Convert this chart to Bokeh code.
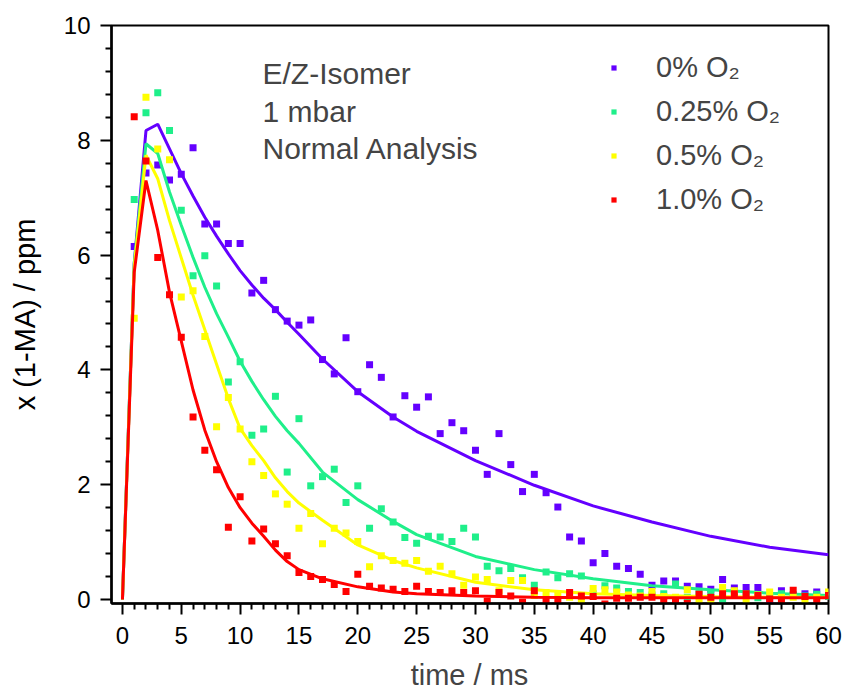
from bokeh.plotting import figure
from bokeh.models import Range1d, FixedTicker, Legend, LegendItem, Label
from bokeh.embed import file_html
from bokeh.resources import INLINE

# ---------------- data ----------------
time_ms = list(range(1, 61))

o2_0 = [6.15, 7.43, 7.57, 7.31, 7.41, 7.87, 6.54, 6.54, 6.20, 6.20,
        5.34, 5.56, 5.05, 4.85, 4.78, 4.87, 4.18, 3.93, 4.56, 3.62,
        4.09, 3.87, 3.18, 3.55, 3.35, 3.53, 2.89, 3.08, 2.94, 2.60,
        2.18, 2.89, 2.35, 1.88, 2.18, 1.86, 1.61, 1.09, 1.02, 0.64,
        0.80, 0.58, 0.54, 0.44, 0.25, 0.32, 0.32, 0.23, 0.22, 0.18,
        0.35, 0.20, 0.21, 0.21, 0.00, 0.15, 0.08, 0.10, 0.13, 0.12]

o2_025 = [6.97, 8.48, 8.83, 8.17, 6.78, 5.64, 5.99, 5.46, 3.79, 4.14,
          2.86, 2.97, 3.54, 2.22, 3.15, 1.98, 2.14, 2.27, 1.69, 1.98,
          1.24, 1.58, 1.35, 1.08, 0.98, 1.10, 1.09, 1.01, 1.24, 1.09,
          0.58, 0.50, 0.54, 0.38, 0.25, 0.48, 0.38, 0.45, 0.41, 0.10,
          0.24, 0.20, 0.14, 0.12, 0.08, 0.10, 0.27, 0.04, 0.10, 0.12,
          0.01, 0.08, 0.10, 0.03, 0.06, 0.10, 0.08, 0.06, 0.09, 0.05]

o2_05 = [4.90, 8.75, 7.85, 7.66, 5.27, 5.38, 4.58, 3.01, 3.52, 2.97,
         2.40, 2.16, 1.84, 1.66, 1.24, 1.50, 0.97, 1.24, 1.16, 1.01,
         0.57, 0.76, 0.68, 0.63, 0.68, 0.49, 0.58, 0.45, 0.25, 0.39,
         0.35, 0.15, 0.33, 0.33, 0.07, 0.12, 0.09, 0.04, -0.04, 0.19,
         0.17, 0.13, 0.08, 0.06, 0.14, 0.05, 0.04, 0.17, -0.03, -0.04,
         0.21, 0.15, -0.05, 0.08, 0.13, 0.04, 0.04, -0.02, 0.04, 0.13]

o2_1 = [8.41, 7.64, 5.96, 5.31, 4.57, 3.18, 2.60, 2.26, 1.26, 1.79,
        1.02, 1.23, 0.97, 0.76, 0.47, 0.40, 0.35, 0.26, 0.14, 0.44,
        0.23, 0.20, 0.18, 0.14, 0.23, 0.14, 0.12, 0.15, 0.12, 0.15,
        -0.03, 0.12, 0.06, -0.05, 0.15, 0.00, -0.03, 0.12, 0.06, 0.05,
        -0.08, 0.02, 0.02, 0.04, 0.04, -0.03, -0.03, -0.07, 0.09, 0.04,
        0.10, 0.10, 0.10, 0.07, 0.01, -0.04, 0.16, 0.05, -0.04, 0.07]

fit_time = [0, 1, 2, 3, 4, 5, 6, 7, 8, 9, 10, 11, 12, 13, 14, 15, 17, 20,
            23, 25, 30, 35, 40, 45, 50, 55, 60]
fit_0 = [0, 5.85, 8.17, 8.28, 7.85, 7.42, 7.03, 6.66, 6.33, 6.02, 5.73,
         5.48, 5.25, 5.05, 4.83, 4.62, 4.19, 3.62, 3.18, 2.93, 2.42, 1.99,
         1.63, 1.35, 1.10, 0.91, 0.78]
fit_025 = [0, 5.85, 7.94, 7.77, 7.10, 6.52, 5.96, 5.44, 4.98, 4.57, 4.15,
           3.80, 3.48, 3.19, 2.94, 2.72, 2.22, 1.74, 1.36, 1.13, 0.75, 0.52,
           0.36, 0.24, 0.17, 0.11, 0.07]
fit_05 = [0, 5.80, 7.74, 7.33, 6.60, 5.95, 5.30, 4.70, 4.10, 3.50, 2.98,
          2.68, 2.42, 2.12, 1.88, 1.68, 1.38, 0.95, 0.68, 0.55, 0.30, 0.17,
          0.10, 0.07, 0.05, 0.04, 0.04]
fit_1 = [0, 5.70, 7.30, 6.43, 5.35, 4.50, 3.65, 2.95, 2.40, 1.95, 1.60,
         1.33, 1.10, 0.86, 0.66, 0.52, 0.36, 0.22, 0.13, 0.10, 0.06, 0.04,
         0.03, 0.03, 0.03, 0.03, 0.03]

series_labels = ["0% O\u2082", "0.25% O\u2082", "0.5% O\u2082", "1.0% O\u2082"]
series_colors = ["#6400FF", "#1FEF8A", "#FFFF00", "#FF0000"]
x_ticks = [0, 5, 10, 15, 20, 25, 30, 35, 40, 45, 50, 55, 60]
y_ticks = [0, 2, 4, 6, 8, 10]
notes = ["E/Z-Isomer", "1 mbar", "Normal Analysis"]
x_title = "time / ms"
y_title = "x (1-MA) / ppm"

FONT = "Liberation Sans"

p = figure(width=844, height=691, output_backend="svg", toolbar_location=None,
           x_range=Range1d(-0.93, 60), y_range=Range1d(-0.07, 10),
           min_border_left=111, min_border_right=16, min_border_top=25,
           min_border_bottom=88)
p.grid.visible = False
p.outline_line_color = "black"
p.outline_line_width = 2
p.background_fill_color = "white"
p.border_fill_color = "white"

for ax in (p.xaxis[0], p.yaxis[0]):
    ax.axis_line_width = 2.5
    ax.major_tick_line_width = 2
    ax.minor_tick_line_width = 2
    ax.major_tick_in = 0
    ax.minor_tick_in = 0
    ax.major_tick_out = 11
    ax.minor_tick_out = 6
    ax.major_label_text_font = FONT
    ax.major_label_text_font_size = "24px"
    ax.major_label_text_color = "black"
    ax.axis_label_text_font = FONT
    ax.axis_label_text_font_size = "29px"
    ax.axis_label_text_font_style = "normal"
    ax.axis_label_text_color = "black"

p.yaxis.axis_label = y_title
minor_x = [m for m in range(0, 61) if m % 5 != 0]
p.xaxis.ticker = FixedTicker(ticks=x_ticks, minor_ticks=minor_x)
minor_y = [round(0.4 * k, 1) for k in range(0, 26) if k % 5 != 0]
p.yaxis.ticker = FixedTicker(ticks=y_ticks, minor_ticks=minor_y)
p.xaxis.major_label_standoff = 12
p.yaxis.major_label_standoff = 10
p.yaxis.axis_label_standoff = 20

items = []
series = [(o2_0, fit_0), (o2_025, fit_025), (o2_05, fit_05), (o2_1, fit_1)]
for (ys, fy), lab, col in zip(series, series_labels, series_colors):
    r = p.scatter(time_ms, ys, marker="square", size=7, fill_color=col,
                  line_color=col, line_width=0)
    p.line(fit_time, fy, line_color=col, line_width=3)
    items.append(LegendItem(label=lab, renderers=[r]))

legend = Legend(items=items, location=(496, 387), padding=0, margin=0,
                spacing=11, label_height=32, glyph_width=13, glyph_height=13,
                label_standoff=36, label_text_font=FONT,
                label_text_font_size="29px", border_line_color=None,
                background_fill_alpha=0)
p.add_layout(legend, "center")

for i, t in enumerate(notes):
    p.add_layout(Label(x=151, y=530 - 37.5 * i, x_units="screen", y_units="screen",
                       text=t, text_font=FONT, text_font_size="30px",
                       text_baseline="middle"))

p.add_layout(Label(x=358, y=-12, x_units="screen", y_units="screen",
                   text=x_title, text_font=FONT, text_font_size="29px",
                   text_align="center", text_baseline="bottom"), "below")

open("out.html", "w").write(file_html(p, INLINE))
